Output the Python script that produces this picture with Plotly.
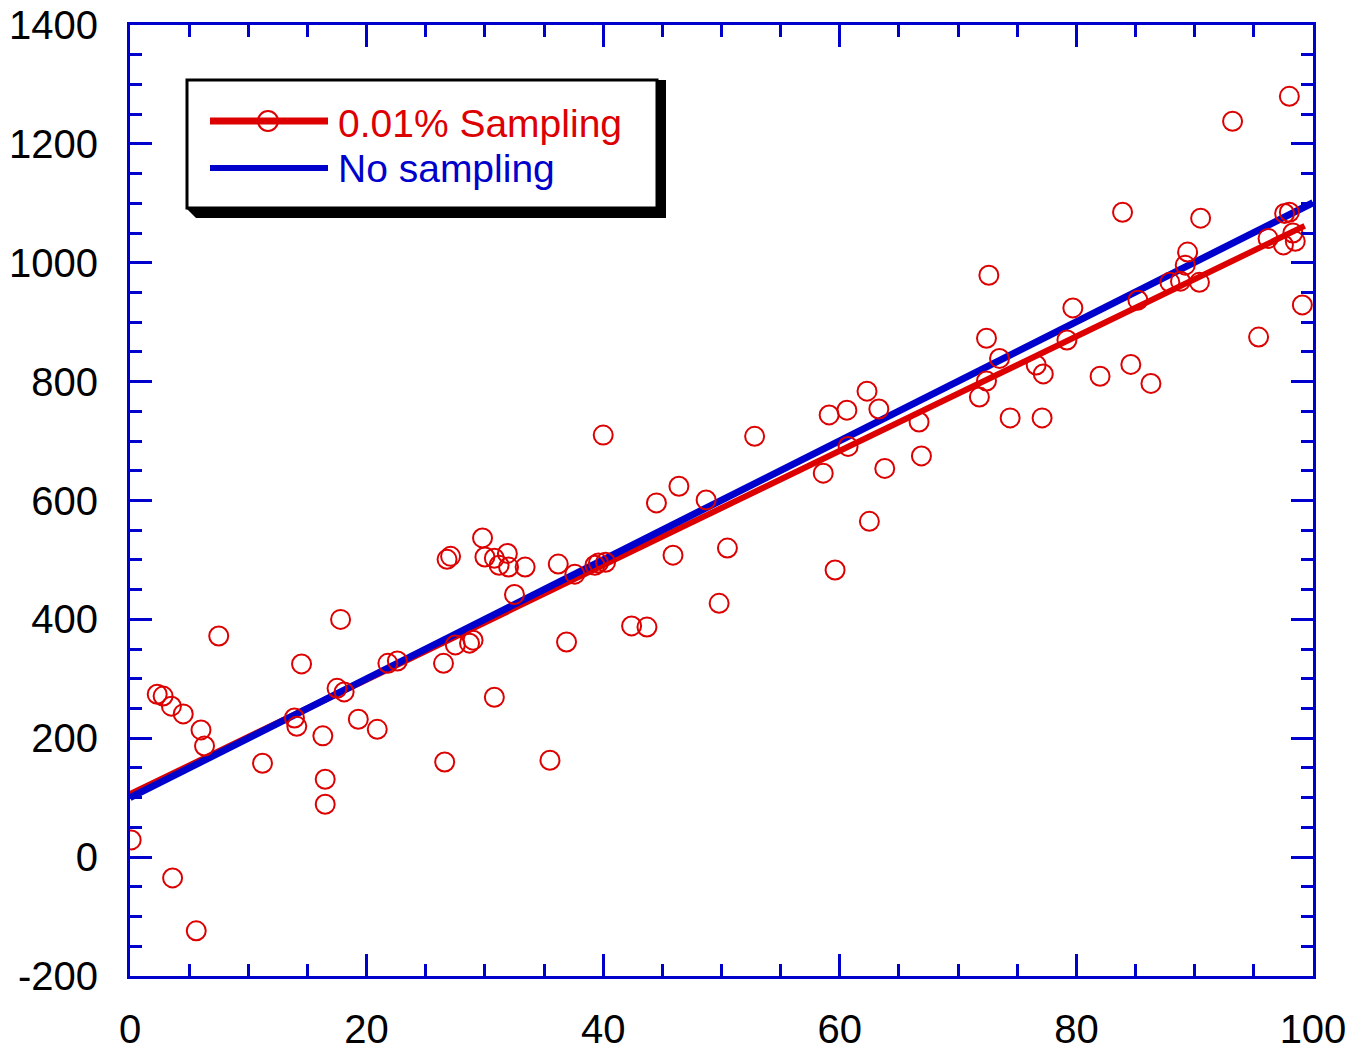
import plotly.graph_objects as go

# ---------------- data ----------------
sample_x = [0.1, 2.3, 2.8, 3.5, 4.5, 3.6, 5.6, 6.0, 6.3, 7.5,
            11.2, 13.9, 14.1, 14.5, 16.3, 16.5, 16.5, 17.5, 18.1, 17.8,
            19.3, 20.9, 21.8, 22.6, 26.5, 26.6, 26.8, 27.1, 27.5, 28.7,
            29.0, 29.8, 30.0, 30.8, 30.8, 31.2, 31.9, 32.0, 32.5, 33.4,
            35.5, 36.2, 36.9, 37.6, 39.3, 39.6, 40.2, 40.0, 42.4, 43.7,
            44.5, 45.9, 46.4, 48.7, 49.8, 50.5, 52.8, 58.6, 59.1, 59.6,
            60.6, 60.7, 62.3, 62.5, 63.3, 63.8, 66.7, 66.9, 71.8, 72.4,
            72.4, 72.6, 73.5, 74.4, 76.6, 77.2, 77.1, 79.2, 79.7, 82.0,
            83.9, 84.6, 85.2, 86.3, 87.9, 88.8, 89.2, 89.4, 90.4, 90.5,
            93.2, 95.4, 96.2, 97.5, 97.6, 98.0, 98.0, 98.3, 98.5, 99.1]
sample_y = [29, 274, 271, 254, 241, -35, -124, 214, 187, 372,
            158, 234, 220, 325, 204, 131, 89, 284, 278, 400,
            232, 215, 326, 330, 326, 160, 501, 506, 357, 360,
            365, 537, 505, 269, 503, 491, 511, 488, 442, 488,
            163, 493, 362, 476, 491, 495, 496, 710, 389, 387,
            596, 508, 624, 601, 427, 520, 708, 646, 744, 483,
            752, 691, 784, 565, 754, 654, 732, 675, 774, 873,
            801, 979, 839, 739, 828, 813, 739, 870, 924, 809,
            1085, 829, 937, 797, 967, 969, 996, 1018, 967, 1075,
            1238, 875, 1041, 1030, 1083, 1085, 1280, 1050, 1036, 929]

fit_sampling_x = [0, 99.3]
fit_sampling_y = [106, 1062]
fit_nosampling_x = [0, 100]
fit_nosampling_y = [100, 1101]

x_ticks = [0, 20, 40, 60, 80, 100]
y_ticks = [-200, 0, 200, 400, 600, 800, 1000, 1200, 1400]

legend_labels = ["0.01% Sampling", "No sampling"]

# ---------------- style ----------------
RED = "#DD0000"
BLUE = "#0000CC"
W, H = 1349, 1050
L, R, T, B = 130, 1313, 25, 976  # plot area in pixels
FONT = "Liberation Sans, Arial, sans-serif"


def px(xp):
    return (xp - L) / (R - L)


def py(yp):
    return (B - yp) / (B - T)


fig = go.Figure()
fig.add_trace(go.Scatter(x=fit_sampling_x, y=fit_sampling_y, mode="lines",
                         line=dict(color=RED, width=6), showlegend=False))
fig.add_trace(go.Scatter(x=fit_nosampling_x, y=fit_nosampling_y, mode="lines",
                         line=dict(color=BLUE, width=7), showlegend=False))
fig.add_trace(go.Scatter(x=sample_x, y=sample_y, mode="markers",
                         marker=dict(symbol="circle-open", size=19, color=RED,
                                     line=dict(color=RED, width=2)),
                         showlegend=False))

axis_common = dict(
    showline=True, linecolor=BLUE, linewidth=3, mirror="ticks",
    ticks="inside", tickcolor=BLUE, tickwidth=3, ticklen=22,
    showgrid=False, zeroline=False, automargin=False,
    tickfont=dict(family=FONT, size=40, color="black"),
)

fig.update_xaxes(range=[0, 100], tickmode="array", tickvals=x_ticks,
                 ticktext=[str(v) for v in x_ticks], ticklabelstandoff=16,
                 minor=dict(dtick=5, tick0=0, ticks="inside", ticklen=12,
                            tickcolor=BLUE, tickwidth=3),
                 **axis_common)
fig.update_yaxes(range=[-200, 1400], tickmode="array", tickvals=y_ticks,
                 ticktext=[str(v) for v in y_ticks], ticklabelstandoff=21,
                 minor=dict(dtick=50, tick0=0, ticks="inside", ticklen=12,
                            tickcolor=BLUE, tickwidth=3),
                 **axis_common)

shapes = [
    # legend shadow
    dict(type="path", xref="paper", yref="paper",
         path=(f"M {px(195)} {py(80)} L {px(666)} {py(80)} L {px(666)} {py(218)} "
               f"L {px(196)} {py(218)} L {px(187)} {py(209)} Z"),
         fillcolor="black", line=dict(width=0), layer="above"),
    # legend box
    dict(type="rect", xref="paper", yref="paper",
         x0=px(187), x1=px(657), y0=py(208), y1=py(80),
         fillcolor="white", line=dict(color="black", width=3), layer="above"),
    # legend lines
    dict(type="line", xref="paper", yref="paper",
         x0=px(210), x1=px(328), y0=py(121), y1=py(121),
         line=dict(color=RED, width=7), layer="above"),
    dict(type="line", xref="paper", yref="paper",
         x0=px(210), x1=px(328), y0=py(168), y1=py(168),
         line=dict(color=BLUE, width=6), layer="above"),
    # legend marker
    dict(type="circle", xref="paper", yref="paper",
         x0=px(258), x1=px(278), y0=py(131), y1=py(111),
         fillcolor="rgba(0,0,0,0)", line=dict(color=RED, width=2), layer="above"),
]

annotations = [
    dict(text=legend_labels[0], xref="paper", yref="paper", x=px(336), y=py(123),
         xanchor="left", yanchor="middle", showarrow=False,
         font=dict(family=FONT, size=39, color=RED)),
    dict(text=legend_labels[1], xref="paper", yref="paper", x=px(336), y=py(169),
         xanchor="left", yanchor="middle", showarrow=False,
         font=dict(family=FONT, size=39, color=BLUE)),
]

fig.update_layout(
    width=W, height=H,
    margin=dict(l=L, r=W - R, t=T, b=H - B, pad=0),
    paper_bgcolor="white", plot_bgcolor="white",
    showlegend=False, shapes=shapes, annotations=annotations,
)

fig.write_html("out.html", config={"displayModeBar": False},
               post_script="document.body.style.margin='0';"
                           "document.body.style.overflow='hidden';")
